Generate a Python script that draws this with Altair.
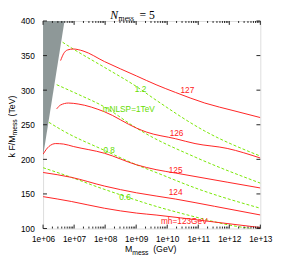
import altair as alt
import pandas as pd

# ---- data (x as log10 of M_mess / GeV, y = k F / M_mess in TeV) ----
mh127_lx = [6.565, 6.659, 6.785, 6.973, 7.287, 7.977, 9.013, 9.641, 10.269, 11.210, 12.152, 13.0]
mh127_y = [342.8, 352.6, 358.1, 359.5, 356.7, 341.4, 320.5, 307.9, 296.7, 281.4, 270.2, 260.4]
mh126_lx = [6.439, 6.565, 6.816, 7.130, 7.977, 9.013, 9.327, 10.269, 10.896, 11.932, 13.0]
mh126_y = [273.0, 278.6, 281.4, 280.0, 268.8, 245.1, 239.5, 229.8, 222.8, 215.8, 201.9]
mh125_lx = [6.0, 6.188, 6.408, 6.659, 6.973, 7.977, 9.013, 9.641, 10.269, 11.932, 13.0]
mh125_y = [207.5, 218.6, 222.8, 222.1, 218.6, 208.8, 192.1, 185.1, 180.2, 167.0, 158.6]
mh124_lx = [6.0, 6.910, 7.977, 9.013, 10.269, 11.524, 13.0]
mh124_y = [181.0, 174.0, 161.4, 151.6, 142.6, 132.1, 119.6]
mh123_lx = [6.0, 6.910, 7.977, 9.013, 9.641, 11.210, 13.0]
mh123_y = [146.1, 139.1, 129.3, 122.3, 119.5, 111.1, 101.4]

nlsp12_lx = [6.628, 6.973, 7.977, 9.013, 9.641, 11.210, 13.0]
nlsp12_y = [369.3, 359.5, 333.0, 305.1, 285.6, 240.9, 204.7]
nlsp10_lx = [6.439, 7.130, 7.977, 9.013, 9.327, 10.896, 13.0]
nlsp10_y = [307.9, 294.0, 275.8, 245.1, 236.8, 203.3, 165.6]
nlsp08_lx = [6.188, 6.659, 7.977, 9.013, 9.641, 10.991, 13.0]
nlsp08_y = [253.5, 240.9, 213.0, 192.1, 181.0, 157.2, 129.3]
nlsp06_lx = [6.0, 6.910, 7.758, 8.480, 9.327, 10.896, 11.932, 12.685]
nlsp06_y = [187.9, 174.0, 160.0, 148.9, 136.3, 116.8, 105.6, 100.0]

excluded_lx = [6.0, 6.69]
excluded_lo = [205.0, 400.0]

label_texts = ["127", "126", "125", "124", "mh=123GeV", "1.2", "mNLSP=1TeV", "0.8", "0.6"]
label_lx = [10.65, 10.30, 10.27, 10.27, 10.55, 9.14, 8.76, 8.13, 8.64]
label_y = [299.5, 238.0, 185.0, 152.0, 111.0, 301.0, 273.0, 213.0, 145.0]
label_kind = ["mh", "mh", "mh", "mh", "mh", "nlsp", "nlsp", "nlsp", "nlsp"]

x_tick_exps = [6, 7, 8, 9, 10, 11, 12, 13]
x_tick_labels = ["1e+06", "1e+07", "1e+08", "1e+09", "1e+10", "1e+11", "1e+12", "1e+13"]
y_ticks = [100, 150, 200, 250, 300, 350, 400]

RED = "#ff2020"
GREEN = "#77e600"
GREEN_TXT = "#66dd00"
FONT = "Liberation Sans"
W, H = 223, 213


def curves(specs):
    rows = []
    for name, lx, ys in specs:
        for i, (a, b) in enumerate(zip(lx, ys)):
            rows.append({"curve": name, "M": 10 ** a, "v": b, "o": i})
    return pd.DataFrame(rows)


red_df = curves([("127", mh127_lx, mh127_y), ("126", mh126_lx, mh126_y),
                 ("125", mh125_lx, mh125_y), ("124", mh124_lx, mh124_y),
                 ("123", mh123_lx, mh123_y)])
green_df = curves([("1.2", nlsp12_lx, nlsp12_y), ("1.0", nlsp10_lx, nlsp10_y),
                   ("0.8", nlsp08_lx, nlsp08_y), ("0.6", nlsp06_lx, nlsp06_y)])
excl_df = pd.DataFrame({"M": [10 ** a for a in excluded_lx], "lo": excluded_lo,
                        "hi": [400.0] * len(excluded_lx)})
lab_df = pd.DataFrame({"M": [10 ** a for a in label_lx], "v": label_y,
                       "t": label_texts, "k": label_kind})

xs = alt.Scale(type="log", domain=[1e6, 1e13], nice=False)
ys = alt.Scale(domain=[100, 400], nice=False, zero=False)

label_expr = "[" + ",".join("'%s'" % s for s in x_tick_labels) + "][round(log(datum.value)/LN10)-6]"
x_axis = alt.Axis(values=[10 ** e for e in x_tick_exps], labelExpr=label_expr, ticks=False,
                  domain=False, grid=False, title=None, labelFont=FONT, labelFontSize=8.5,
                  labelColor="#000", labelPadding=6, labelFlush=False, labelOverlap=False)
y_axis = alt.Axis(values=y_ticks, ticks=False, domain=False, grid=False, title=None,
                  labelFont=FONT, labelFontSize=8.5, labelColor="#000", labelPadding=9)

base_x = alt.X("M:Q", scale=xs, axis=x_axis)
base_y = alt.Y("v:Q", scale=ys, axis=y_axis)

excl = alt.Chart(excl_df).mark_area(color="#8e9898", opacity=1).encode(
    x=alt.X("M:Q", scale=xs, axis=x_axis), y=alt.Y("lo:Q", scale=ys, axis=y_axis), y2="hi:Q")

green = alt.Chart(green_df).mark_line(color=GREEN, strokeWidth=1, strokeDash=[3, 2],
                                      interpolate="monotone", clip=True).encode(
    x=base_x, y=base_y, detail="curve:N", order="o:Q")
red = alt.Chart(red_df).mark_line(color=RED, strokeWidth=1, interpolate="monotone",
                                  clip=True).encode(
    x=base_x, y=base_y, detail="curve:N", order="o:Q")

labels = alt.Chart(lab_df).mark_text(font=FONT, fontSize=8.5).encode(
    x=base_x, y=base_y, text="t:N",
    color=alt.Color("k:N", scale=alt.Scale(domain=["mh", "nlsp"], range=[RED, GREEN_TXT]),
                    legend=None))

# ---- ticks (inward, gnuplot style) ----
major_df = pd.DataFrame({"M": [10 ** e for e in x_tick_exps]})
minor_df = pd.DataFrame({"M": [k * 10 ** e for e in x_tick_exps[:-1] for k in range(2, 10)]})
ytick_df = pd.DataFrame({"v": y_ticks})
TC = "#222"
tick_layers = [
    alt.Chart(major_df).mark_rule(color=TC, strokeWidth=1).encode(
        x=base_x, y=alt.value(H), y2=alt.value(H - 4)),
    alt.Chart(major_df).mark_rule(color=TC, strokeWidth=1).encode(
        x=base_x, y=alt.value(0), y2=alt.value(4)),
    alt.Chart(minor_df).mark_rule(color=TC, strokeWidth=1).encode(
        x=base_x, y=alt.value(H), y2=alt.value(H - 2)),
    alt.Chart(minor_df).mark_rule(color=TC, strokeWidth=1).encode(
        x=base_x, y=alt.value(0), y2=alt.value(2)),
    alt.Chart(ytick_df).mark_rule(color=TC, strokeWidth=1).encode(
        y=base_y, x=alt.value(0), x2=alt.value(4)),
    alt.Chart(ytick_df).mark_rule(color=TC, strokeWidth=1).encode(
        y=base_y, x=alt.value(W), x2=alt.value(W - 4)),
]

# ---- titles built from text pieces ----
one = pd.DataFrame({"a": [0]})


def txt(s, x, y, size, font=FONT, style="normal", angle=0, align="left", weight="normal"):
    return alt.Chart(one).mark_text(text=s, font=font, fontSize=size, fontStyle=style,
                                    angle=angle, align=align, baseline="alphabetic",
                                    fontWeight=weight, color="#000").encode(
        x=alt.value(x), y=alt.value(y))


SERIF = "Liberation Serif"
titles = [
    txt("N", 69, -1.6, 12, font=SERIF, style="italic"),
    txt("mess", 77.5, -0.4, 8, font=SERIF),
    txt("= 5", 99, -1.6, 12, font=SERIF),
    txt("M", 84, 237, 9),
    txt("mess", 91.5, 240, 7),
    txt("(GeV)", 113, 237, 9),
    txt("k F/M", -29, 140, 9, angle=270),
    txt("mess", -26.5, 117.5, 7, angle=270),
    txt("(TeV)", -29, 98, 9, angle=270),
]

chart = alt.layer(excl, green, red, labels, *tick_layers, *titles).properties(
    width=W, height=H,
    autosize=alt.AutoSizeParams(type="none"),
    padding={"left": 36, "top": 10, "right": 13, "bottom": 30},
).configure_view(stroke="#333", strokeWidth=1).configure(background="white")

chart.save("out.html", embed_options={"renderer": "svg", "actions": False})
